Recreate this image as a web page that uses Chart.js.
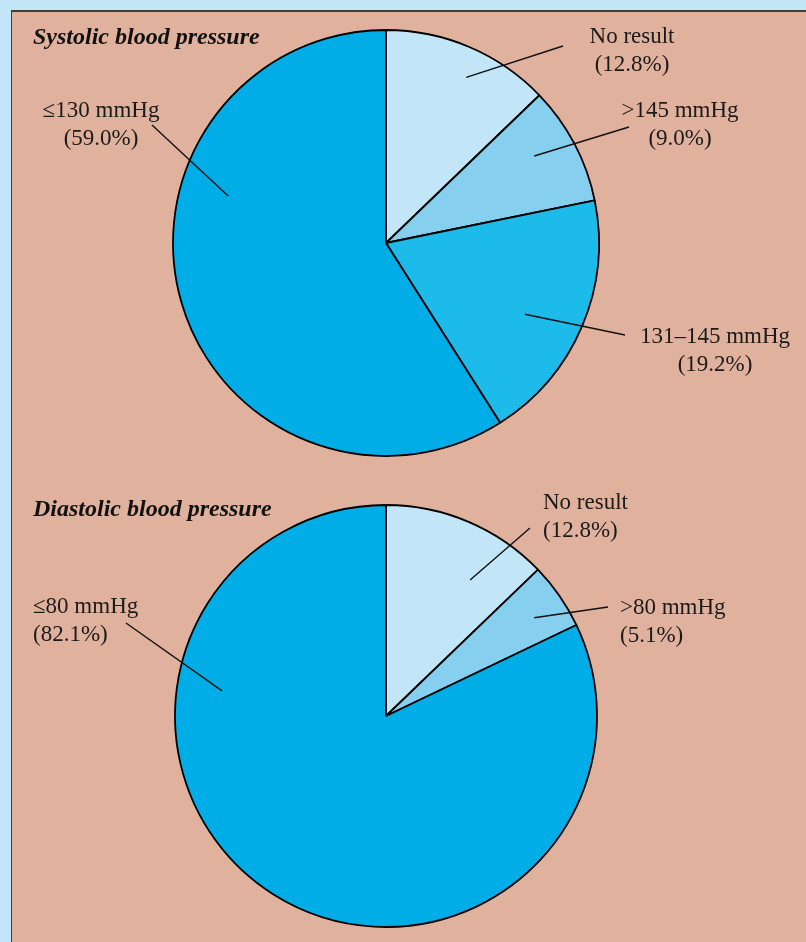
<!DOCTYPE html>
<html>
<head>
<meta charset="utf-8">
<script src="https://cdn.jsdelivr.net/npm/chart.js@4.4.1/dist/chart.umd.min.js"></script>
<style>
  html, body { margin:0; padding:0; width:806px; height:942px; overflow:hidden; background:#c2e5f7; }
  #panel { position:absolute; left:11px; top:10px; width:795px; height:932px; background:#e0b29e;
           border-top:2px solid #3e3e3e; border-left:1.5px solid #3e3e3e; box-sizing:border-box; }
  canvas { position:absolute; left:0; top:0; }
</style>
</head>
<body>
<div id="panel"></div>
<canvas id="c1" width="806" height="942"></canvas>
<canvas id="c2" width="806" height="942"></canvas>
<script>
// ---- Data ----
const systolicTitle = "Systolic blood pressure";
const systolicCategories = ["No result", ">145 mmHg", "131–145 mmHg", "≤130 mmHg"];
const systolicValues = [12.8, 9.0, 19.2, 59.0];

const diastolicTitle = "Diastolic blood pressure";
const diastolicCategories = ["No result", ">80 mmHg", "≤80 mmHg"];
const diastolicValues = [12.8, 5.1, 82.1];

// ---- Styles / layout (not data) ----
const systolicColors = ["#c2e5f7", "#87cfee", "#1cbbea", "#00ade6"];
const diastolicColors = ["#c2e5f7", "#87cfee", "#00ade6"];

const systolicLabelLayout = [
  { k:0.864, dAng:2.8,  end:[563,46],  tx:632, ty:43,  align:"center" },
  { k:0.807, dAng:-2.7, end:[629,127], tx:680, ty:117, align:"center" },
  { k:0.733, dAng:4.1,  end:[625,335], tx:715, ty:343, align:"center" },
  { k:0.773, dAng:32.8, end:[152,125], tx:101, ty:117, align:"center" }
];
const diastolicLabelLayout = [
  { k:0.758, dAng:8.7,  end:[530,528], tx:543, ty:509, align:"left" },
  { k:0.843, dAng:1.2,  end:[608,607], tx:620, ty:614, align:"left" },
  { k:0.786, dAng:66.5, end:[126,623], tx:33,  ty:613, align:"left" }
];

const labelFont = '23px "Liberation Serif", "Times New Roman", serif';
const titleFont = 'italic bold 24px "Liberation Serif", "Times New Roman", serif';

const leaderPlugin = {
  id: 'leaders',
  afterDatasetsDraw(chart, args, opts) {
    const ctx = chart.ctx;
    const meta = chart.getDatasetMeta(0);
    const values = chart.data.datasets[0].data;
    const cats = chart.data.labels;
    ctx.save();
    opts.layout.forEach((it, i) => {
      const arc = meta.data[i];
      const p = arc.getProps(['x','y','startAngle','endAngle','outerRadius'], true);
      const mid = (p.startAngle + p.endAngle) / 2 + it.dAng * Math.PI / 180;
      const r = p.outerRadius * it.k;
      const ix = p.x + Math.cos(mid) * r;
      const iy = p.y + Math.sin(mid) * r;
      ctx.beginPath();
      ctx.strokeStyle = "#111";
      ctx.lineWidth = 1.4;
      ctx.moveTo(ix, iy);
      ctx.lineTo(it.end[0], it.end[1]);
      ctx.stroke();
      ctx.fillStyle = "#1a1a1a";
      ctx.font = labelFont;
      ctx.textAlign = it.align;
      ctx.textBaseline = "alphabetic";
      ctx.fillText(cats[i], it.tx, it.ty);
      ctx.fillText("(" + values[i].toFixed(1) + "%)", it.tx, it.ty + 28);
    });
    ctx.font = titleFont;
    ctx.textAlign = "left";
    ctx.fillStyle = "#111";
    ctx.fillText(opts.title, opts.titleX, opts.titleY);
    ctx.restore();
  }
};

function makePie(id, cats, vals, colors, radius, padding, layout, title, titleY) {
  return new Chart(document.getElementById(id), {
    type: 'pie',
    data: {
      labels: cats,
      datasets: [{
        data: vals,
        backgroundColor: colors,
        borderColor: "#000",
        borderWidth: 1.8,
        radius: radius
      }]
    },
    options: {
      responsive: false,
      animation: false,
      devicePixelRatio: 1,
      layout: { padding: padding },
      events: [],
      plugins: {
        legend: { display: false },
        tooltip: { enabled: false },
        leaders: { layout: layout, title: title, titleX: 33, titleY: titleY }
      }
    },
    plugins: [leaderPlugin]
  });
}

makePie('c1', systolicCategories, systolicValues, systolicColors, 213,
        { left:0, right:34, top:0, bottom:456 }, systolicLabelLayout, systolicTitle, 44);
makePie('c2', diastolicCategories, diastolicValues, diastolicColors, 211,
        { left:0, right:34, top:490, bottom:0 }, diastolicLabelLayout, diastolicTitle, 516);
</script>
</body>
</html>
